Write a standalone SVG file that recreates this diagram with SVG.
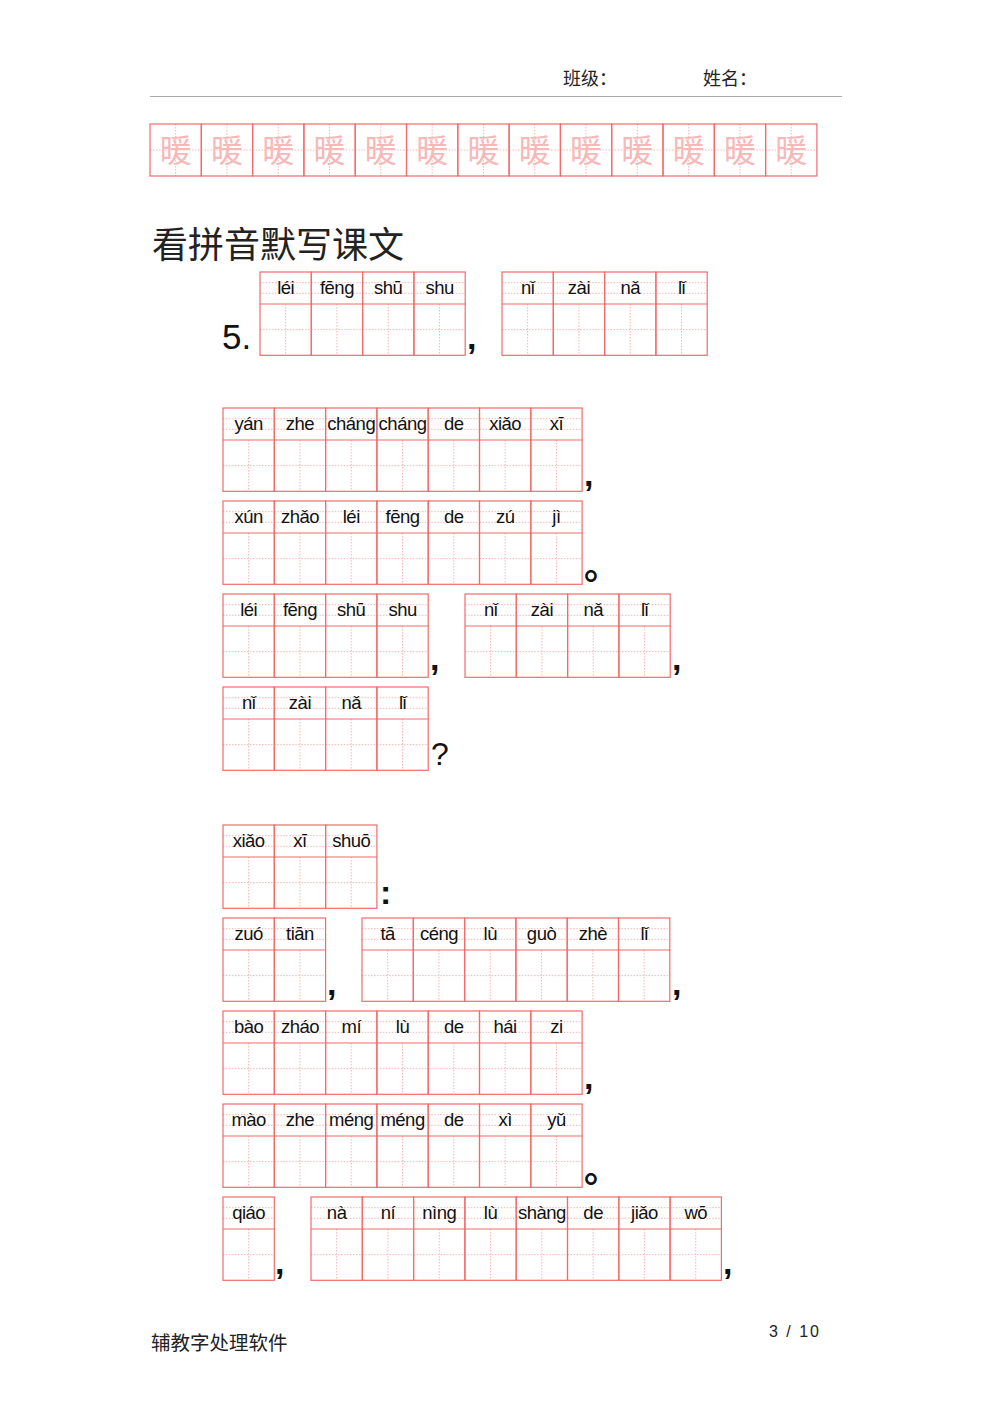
<svg xmlns="http://www.w3.org/2000/svg" xmlns:xlink="http://www.w3.org/1999/xlink" width="992" height="1403" viewBox="0 0 992 1403">
<style>
.bd{fill:none;stroke:#f46a6a;stroke-width:1.2}
.dot{fill:none;stroke:#f5a3a3;stroke-width:0.8;stroke-dasharray:1.5 1.5}
.py{font-family:"Liberation Sans","DejaVu Sans",sans-serif;font-size:18.5px;letter-spacing:-0.5px;fill:#111;text-anchor:middle}
.hz{font-family:"Noto Sans CJK SC",sans-serif;font-size:32px;fill:#f8b8b8;text-anchor:middle}
.cn{font-family:"Noto Sans CJK SC",sans-serif;fill:#222}
.pu{font-family:"Liberation Sans",sans-serif;font-weight:bold;font-size:34px;fill:#111}
.stop{font-family:"Noto Sans CJK SC",sans-serif;font-size:36px;font-weight:bold;fill:#111}
</style>
<defs>
<g id="pc">
<line class="dot" x1="0" y1="10.7" x2="51.3" y2="10.7"/>
<line class="dot" x1="0" y1="21.3" x2="51.3" y2="21.3"/>
<line class="dot" x1="25.65" y1="32" x2="25.65" y2="83.3"/>
<line class="dot" x1="0" y1="57.65" x2="51.3" y2="57.65"/>
<rect class="bd" x="0" y="0" width="51.3" height="83.3"/>
<line class="bd" x1="0" y1="32" x2="51.3" y2="32"/>
</g>
<g id="cc">
<line class="dot" x1="25.65" y1="0" x2="25.65" y2="52"/>
<line class="dot" x1="0" y1="26" x2="51.3" y2="26"/>
<rect class="bd" x="0" y="0" width="51.3" height="52"/>
</g>
</defs>
<rect width="992" height="1403" fill="#fff"/>

<g id="header">
<text class="cn" x="563" y="85" font-size="18">班级：</text>
<text class="cn" x="703" y="85" font-size="18">姓名：</text>
<line x1="150" y1="96.5" x2="842" y2="96.5" stroke="#aaa" stroke-width="1"/>
</g>

<g id="char-row">
<use href="#cc" x="150" y="124"/><use href="#cc" x="201.3" y="124"/><use href="#cc" x="252.6" y="124"/><use href="#cc" x="303.9" y="124"/><use href="#cc" x="355.2" y="124"/><use href="#cc" x="406.5" y="124"/><use href="#cc" x="457.8" y="124"/><use href="#cc" x="509.1" y="124"/><use href="#cc" x="560.4" y="124"/><use href="#cc" x="611.7" y="124"/><use href="#cc" x="663" y="124"/><use href="#cc" x="714.3" y="124"/><use href="#cc" x="765.6" y="124"/>
<text class="hz" x="175.65" y="162">暖</text><text class="hz" x="226.95" y="162">暖</text><text class="hz" x="278.25" y="162">暖</text><text class="hz" x="329.55" y="162">暖</text><text class="hz" x="380.85" y="162">暖</text><text class="hz" x="432.15" y="162">暖</text><text class="hz" x="483.45" y="162">暖</text><text class="hz" x="534.75" y="162">暖</text><text class="hz" x="586.05" y="162">暖</text><text class="hz" x="637.35" y="162">暖</text><text class="hz" x="688.65" y="162">暖</text><text class="hz" x="739.95" y="162">暖</text><text class="hz" x="791.25" y="162">暖</text>
</g>

<text class="cn" x="152" y="258" font-size="36">看拼音默写课文</text>

<text x="222" y="349" font-family="Liberation Sans, sans-serif" font-size="35" fill="#111">5.</text>

<g id="rowA1" transform="translate(260,272)">
<use href="#pc" x="0"/><use href="#pc" x="51.3"/><use href="#pc" x="102.6"/><use href="#pc" x="153.9"/>
<text class="py" x="25.65" y="21.5">léi</text><text class="py" x="76.95" y="21.5">fēng</text><text class="py" x="128.25" y="21.5">shū</text><text class="py" x="179.55" y="21.5">shu</text>
</g>
<text class="pu" x="467" y="349">,</text>
<g id="rowA2" transform="translate(502,272)">
<use href="#pc" x="0"/><use href="#pc" x="51.3"/><use href="#pc" x="102.6"/><use href="#pc" x="153.9"/>
<text class="py" x="25.65" y="21.5">nǐ</text><text class="py" x="76.95" y="21.5">zài</text><text class="py" x="128.25" y="21.5">nǎ</text><text class="py" x="179.55" y="21.5">lǐ</text>
</g>

<g id="rowB" transform="translate(223,408)">
<use href="#pc" x="0"/><use href="#pc" x="51.3"/><use href="#pc" x="102.6"/><use href="#pc" x="153.9"/><use href="#pc" x="205.2"/><use href="#pc" x="256.5"/><use href="#pc" x="307.8"/>
<text class="py" x="25.65" y="21.5">yán</text><text class="py" x="76.95" y="21.5">zhe</text><text class="py" x="128.25" y="21.5">cháng</text><text class="py" x="179.55" y="21.5">cháng</text><text class="py" x="230.85" y="21.5">de</text><text class="py" x="282.15" y="21.5">xiǎo</text><text class="py" x="333.45" y="21.5">xī</text>
</g>
<text class="pu" x="584" y="486">,</text>

<g id="rowC" transform="translate(223,501)">
<use href="#pc" x="0"/><use href="#pc" x="51.3"/><use href="#pc" x="102.6"/><use href="#pc" x="153.9"/><use href="#pc" x="205.2"/><use href="#pc" x="256.5"/><use href="#pc" x="307.8"/>
<text class="py" x="25.65" y="21.5">xún</text><text class="py" x="76.95" y="21.5">zhǎo</text><text class="py" x="128.25" y="21.5">léi</text><text class="py" x="179.55" y="21.5">fēng</text><text class="py" x="230.85" y="21.5">de</text><text class="py" x="282.15" y="21.5">zú</text><text class="py" x="333.45" y="21.5">jì</text>
</g>
<text class="stop" x="584" y="579">。</text>

<g id="rowD1" transform="translate(223,594)">
<use href="#pc" x="0"/><use href="#pc" x="51.3"/><use href="#pc" x="102.6"/><use href="#pc" x="153.9"/>
<text class="py" x="25.65" y="21.5">léi</text><text class="py" x="76.95" y="21.5">fēng</text><text class="py" x="128.25" y="21.5">shū</text><text class="py" x="179.55" y="21.5">shu</text>
</g>
<text class="pu" x="430" y="670">,</text>
<g id="rowD2" transform="translate(465,594)">
<use href="#pc" x="0"/><use href="#pc" x="51.3"/><use href="#pc" x="102.6"/><use href="#pc" x="153.9"/>
<text class="py" x="25.65" y="21.5">nǐ</text><text class="py" x="76.95" y="21.5">zài</text><text class="py" x="128.25" y="21.5">nǎ</text><text class="py" x="179.55" y="21.5">lǐ</text>
</g>
<text class="pu" x="672" y="670">,</text>

<g id="rowE" transform="translate(223,687)">
<use href="#pc" x="0"/><use href="#pc" x="51.3"/><use href="#pc" x="102.6"/><use href="#pc" x="153.9"/>
<text class="py" x="25.65" y="21.5">nǐ</text><text class="py" x="76.95" y="21.5">zài</text><text class="py" x="128.25" y="21.5">nǎ</text><text class="py" x="179.55" y="21.5">lǐ</text>
</g>
<text x="431" y="765" font-family="Liberation Sans, sans-serif" font-size="32" fill="#111">?</text>

<g id="rowF" transform="translate(223,825)">
<use href="#pc" x="0"/><use href="#pc" x="51.3"/><use href="#pc" x="102.6"/>
<text class="py" x="25.65" y="21.5">xiǎo</text><text class="py" x="76.95" y="21.5">xī</text><text class="py" x="128.25" y="21.5">shuō</text>
</g>
<text class="pu" x="380" y="904" font-size="30">:</text>

<g id="rowG1" transform="translate(223,918)">
<use href="#pc" x="0"/><use href="#pc" x="51.3"/>
<text class="py" x="25.65" y="21.5">zuó</text><text class="py" x="76.95" y="21.5">tiān</text>
</g>
<text class="pu" x="327" y="995">,</text>
<g id="rowG2" transform="translate(362,918)">
<use href="#pc" x="0"/><use href="#pc" x="51.3"/><use href="#pc" x="102.6"/><use href="#pc" x="153.9"/><use href="#pc" x="205.2"/><use href="#pc" x="256.5"/>
<text class="py" x="25.65" y="21.5">tā</text><text class="py" x="76.95" y="21.5">céng</text><text class="py" x="128.25" y="21.5">lù</text><text class="py" x="179.55" y="21.5">guò</text><text class="py" x="230.85" y="21.5">zhè</text><text class="py" x="282.15" y="21.5">lǐ</text>
</g>
<text class="pu" x="672" y="995">,</text>

<g id="rowH" transform="translate(223,1011)">
<use href="#pc" x="0"/><use href="#pc" x="51.3"/><use href="#pc" x="102.6"/><use href="#pc" x="153.9"/><use href="#pc" x="205.2"/><use href="#pc" x="256.5"/><use href="#pc" x="307.8"/>
<text class="py" x="25.65" y="21.5">bào</text><text class="py" x="76.95" y="21.5">zháo</text><text class="py" x="128.25" y="21.5">mí</text><text class="py" x="179.55" y="21.5">lù</text><text class="py" x="230.85" y="21.5">de</text><text class="py" x="282.15" y="21.5">hái</text><text class="py" x="333.45" y="21.5">zi</text>
</g>
<text class="pu" x="584" y="1089">,</text>

<g id="rowI" transform="translate(223,1104)">
<use href="#pc" x="0"/><use href="#pc" x="51.3"/><use href="#pc" x="102.6"/><use href="#pc" x="153.9"/><use href="#pc" x="205.2"/><use href="#pc" x="256.5"/><use href="#pc" x="307.8"/>
<text class="py" x="25.65" y="21.5">mào</text><text class="py" x="76.95" y="21.5">zhe</text><text class="py" x="128.25" y="21.5">méng</text><text class="py" x="179.55" y="21.5">méng</text><text class="py" x="230.85" y="21.5">de</text><text class="py" x="282.15" y="21.5">xì</text><text class="py" x="333.45" y="21.5">yǔ</text>
</g>
<text class="stop" x="584" y="1182">。</text>

<g id="rowJ1" transform="translate(223,1197)">
<use href="#pc" x="0"/>
<text class="py" x="25.65" y="21.5">qiáo</text>
</g>
<text class="pu" x="275" y="1274">,</text>
<g id="rowJ2" transform="translate(311,1197)">
<use href="#pc" x="0"/><use href="#pc" x="51.3"/><use href="#pc" x="102.6"/><use href="#pc" x="153.9"/><use href="#pc" x="205.2"/><use href="#pc" x="256.5"/><use href="#pc" x="307.8"/><use href="#pc" x="359.1"/>
<text class="py" x="25.65" y="21.5">nà</text><text class="py" x="76.95" y="21.5">ní</text><text class="py" x="128.25" y="21.5">nìng</text><text class="py" x="179.55" y="21.5">lù</text><text class="py" x="230.85" y="21.5">shàng</text><text class="py" x="282.15" y="21.5">de</text><text class="py" x="333.45" y="21.5">jiǎo</text><text class="py" x="384.75" y="21.5">wō</text>
</g>
<text class="pu" x="723" y="1274">,</text>

<g id="footer">
<text class="cn" x="151" y="1350" font-size="19.5">辅教字处理软件</text>
<text x="769" y="1337" font-family="Liberation Sans, sans-serif" font-size="16" fill="#222" textLength="50">3 / 10</text>
</g>
</svg>
